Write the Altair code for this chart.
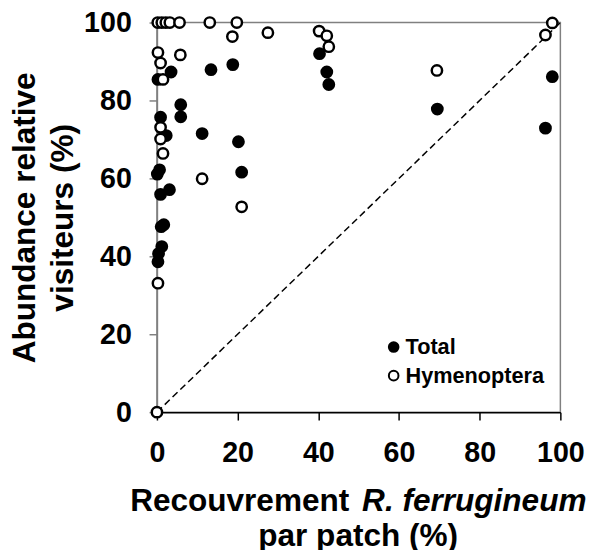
import altair as alt
import pandas as pd

# Total (filled circles)
total_x = [0.25, 3.5, 13.4, 18.8, 5.9, 5.9, 0.9, 2.3, 11.2, 20.2, 0.65, 0.1, 21.0, 3.1, 0.9,
           1.05, 1.7, 1.2, 0.4, 0.25, 40.3, 42.1, 42.6, 69.5, 98.0, 96.3]
total_y = [85.4, 87.3, 87.9, 89.2, 78.9, 75.8, 75.7, 71.0, 71.5, 69.4, 62.2, 61.1, 61.6, 57.1, 55.9,
           47.6, 48.1, 42.5, 40.7, 38.6, 92.0, 87.3, 84.1, 77.8, 86.1, 72.9]

# Hymenoptera (open circles)
hym_x = [0.2, 1.2, 2.2, 3.2, 5.6, 13.1, 19.8, 18.7, 0.25, 0.9, 5.8, 1.5, 0.9, 0.9, 1.5,
         11.2, 21.0, 0.25, 0.0, 27.5, 40.2, 42.1, 42.6, 69.4, 98.0, 96.3]
hym_y = [100, 100, 100, 100, 100, 100, 100, 96.4, 92.3, 89.6, 91.7, 85.4, 73.1, 70.1, 66.4,
         59.9, 52.7, 33.1, 0.0, 97.4, 97.8, 96.6, 93.8, 87.7, 99.9, 96.8]

series = ["Total", "Hymenoptera"]
line_x = [0, 100]
line_y = [0, 100]
x_ticks = [0, 20, 40, 60, 80, 100]
y_ticks = [0, 20, 40, 60, 80, 100]

df = pd.DataFrame({
    "x": total_x + hym_x,
    "y": total_y + hym_y,
    "s": [series[0]] * len(total_x) + [series[1]] * len(hym_x),
    "o": list(range(len(total_x) + len(hym_x))),
})
ldf = pd.DataFrame({"x": line_x, "y": line_y})

FONT = "Liberation Sans"
xs = alt.Scale(domain=[0, 100], nice=False)
ys = alt.Scale(domain=[0, 100], nice=False)

xaxis = alt.Axis(values=x_ticks, title=None, grid=False, labelFontSize=29, labelFont=FONT,
                 labelFontWeight="bold", labelColor="black", tickSize=8, tickColor="black",
                 domainColor="black", domainWidth=1.5, tickWidth=1.5, labelPadding=19,
                 labelFlush=False, labelOverlap=False)
yaxis = alt.Axis(values=y_ticks, grid=False, labelFontSize=29, labelFont=FONT,
                 labelFontWeight="bold", labelColor="black", tickSize=8, tickColor="#808080",
                 domainColor="#808080", domainWidth=1.5, tickWidth=1.5, labelPadding=18,
                 labelFlush=False, labelOverlap=False,
                 title=["Abundance relative", "visiteurs (%)"], titleFontSize=32,
                 titleFont=FONT, titleFontWeight="bold", titleColor="black",
                 titleLineHeight=38, titleAngle=-90, titleAlign="center",
                 titleBaseline="bottom", titleX=-117, titleY=197.5)

line = alt.Chart(ldf).mark_line(color="black", strokeWidth=1.5, strokeDash=[7, 4], clip=False).encode(
    x=alt.X("x:Q", scale=xs, axis=xaxis),
    y=alt.Y("y:Q", scale=ys, axis=yaxis),
)

pts = alt.Chart(df).mark_point(shape="circle", filled=False, stroke="black", strokeWidth=2.5,
                               size=110, opacity=1, clip=False).encode(
    x=alt.X("x:Q", scale=xs),
    y=alt.Y("y:Q", scale=ys),
    fill=alt.Fill("s:N", scale=alt.Scale(domain=series, range=["black", "white"]),
                  legend=alt.Legend(title=None, orient="none", legendX=229, legendY=318,
                                    labelFontSize=22, labelFont=FONT, labelFontWeight="bold",
                                    labelColor="black", symbolType="circle", symbolSize=95,
                                    symbolStrokeColor="black", symbolStrokeWidth=2,
                                    rowPadding=7, labelOffset=1, padding=0)),
    order=alt.Order("o:Q"),
)

t1 = alt.Chart(pd.DataFrame({"t": ["Recouvrement"]})).mark_text(
    font=FONT, fontSize=32, fontWeight="bold", align="right", baseline="alphabetic", color="black"
).encode(text="t:N", x=alt.value(195), y=alt.value(495))
t2 = alt.Chart(pd.DataFrame({"t": ["R. ferrugineum"]})).mark_text(
    font=FONT, fontSize=32, fontWeight="bold", fontStyle="italic", align="left",
    baseline="alphabetic", color="black"
).encode(text="t:N", x=alt.value(208), y=alt.value(495))
t3 = alt.Chart(pd.DataFrame({"t": ["par patch (%)"]})).mark_text(
    font=FONT, fontSize=32, fontWeight="bold", align="center", baseline="alphabetic", color="black"
).encode(text="t:N", x=alt.value(204), y=alt.value(531))

chart = alt.layer(line, pts, t1, t2, t3).properties(
    width=409, height=395,
    autosize=alt.AutoSizeParams(type="none"),
    padding={"left": 151, "top": 11, "right": 27, "bottom": 136},
).configure_view(stroke="#808080", strokeWidth=1.5)

chart.save("out.html", embed_options={"renderer": "svg", "actions": False})
